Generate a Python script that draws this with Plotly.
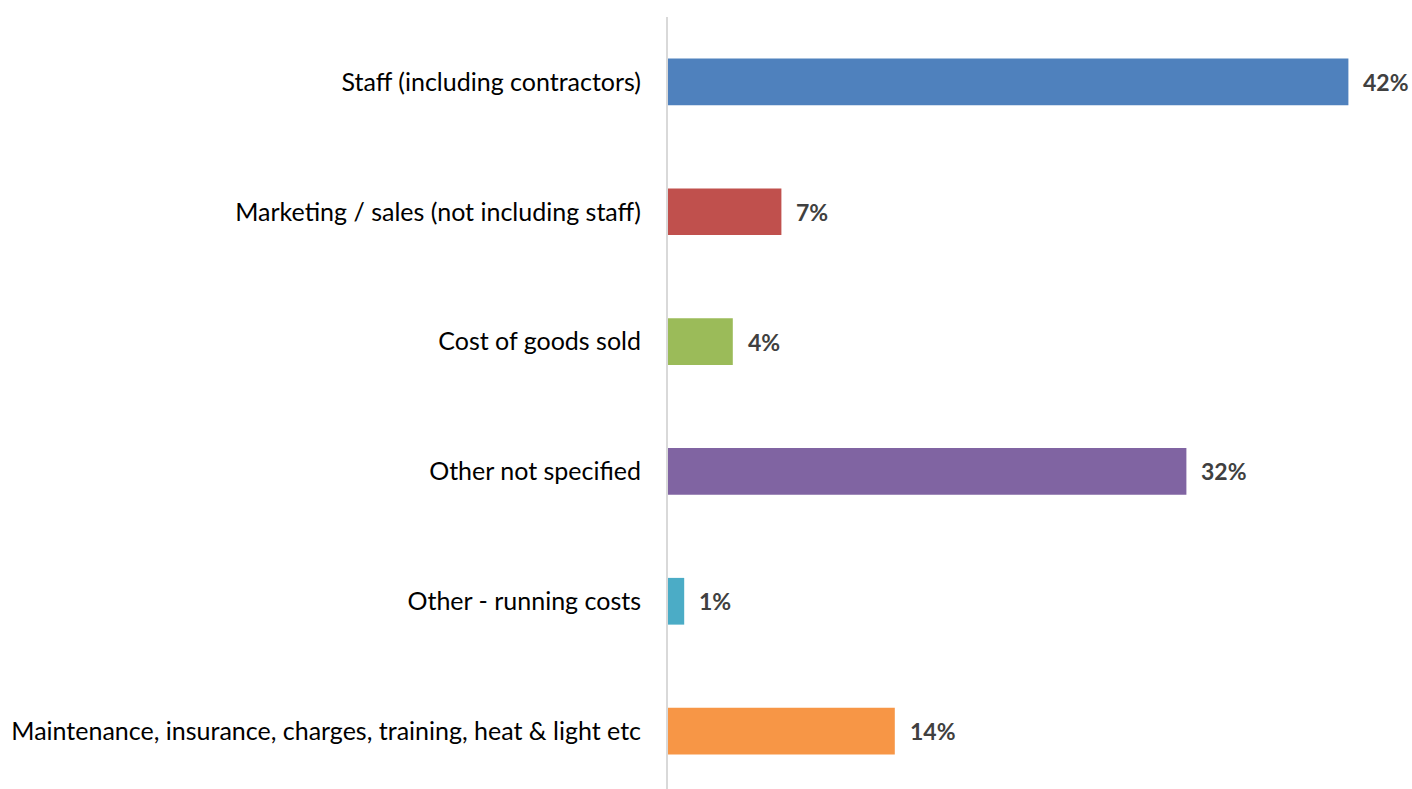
import plotly.graph_objects as go

categories = [
    "Staff (including contractors)",
    "Marketing / sales (not including staff)",
    "Cost of goods sold",
    "Other not specified",
    "Other - running costs",
    "Maintenance, insurance, charges, training, heat & light etc",
]
shares = [42, 7, 4, 32, 1, 14]
bar_colors = ["#4F81BD", "#C0504D", "#9BBB59", "#8064A2", "#4BACC6", "#F79646"]

FONT = "Lato"

fig = go.Figure(
    go.Bar(
        x=shares,
        y=categories,
        orientation="h",
        marker=dict(color=bar_colors, line=dict(width=0)),
        width=0.36,
        hoverinfo="skip",
    )
)

# value labels to the right of each bar
for cat, val in zip(categories, shares):
    fig.add_annotation(
        x=val, y=cat, text=f"<b>{val}%</b>", showarrow=False,
        xanchor="left", yanchor="middle", xshift=13,
        font=dict(family=FONT, size=23, color="#404040"),
    )

fig.update_layout(
    width=1412, height=789,
    margin=dict(l=668, r=15, t=17, b=0),
    plot_bgcolor="white", paper_bgcolor="white",
    showlegend=False,
    font=dict(family=FONT, size=25, color="#000000"),
    xaxis=dict(range=[0, 45], visible=False, showgrid=False, zeroline=False),
    yaxis=dict(
        categoryorder="array", categoryarray=categories,
        range=[5.446, -0.5],
        showgrid=False, zeroline=False,
        showline=True, linecolor="#D9D9D9", linewidth=2,
        ticks="", ticklabelstandoff=20,
        tickfont=dict(family=FONT, size=25, color="#000000"),
    ),
)

fig.write_html("out.html")
